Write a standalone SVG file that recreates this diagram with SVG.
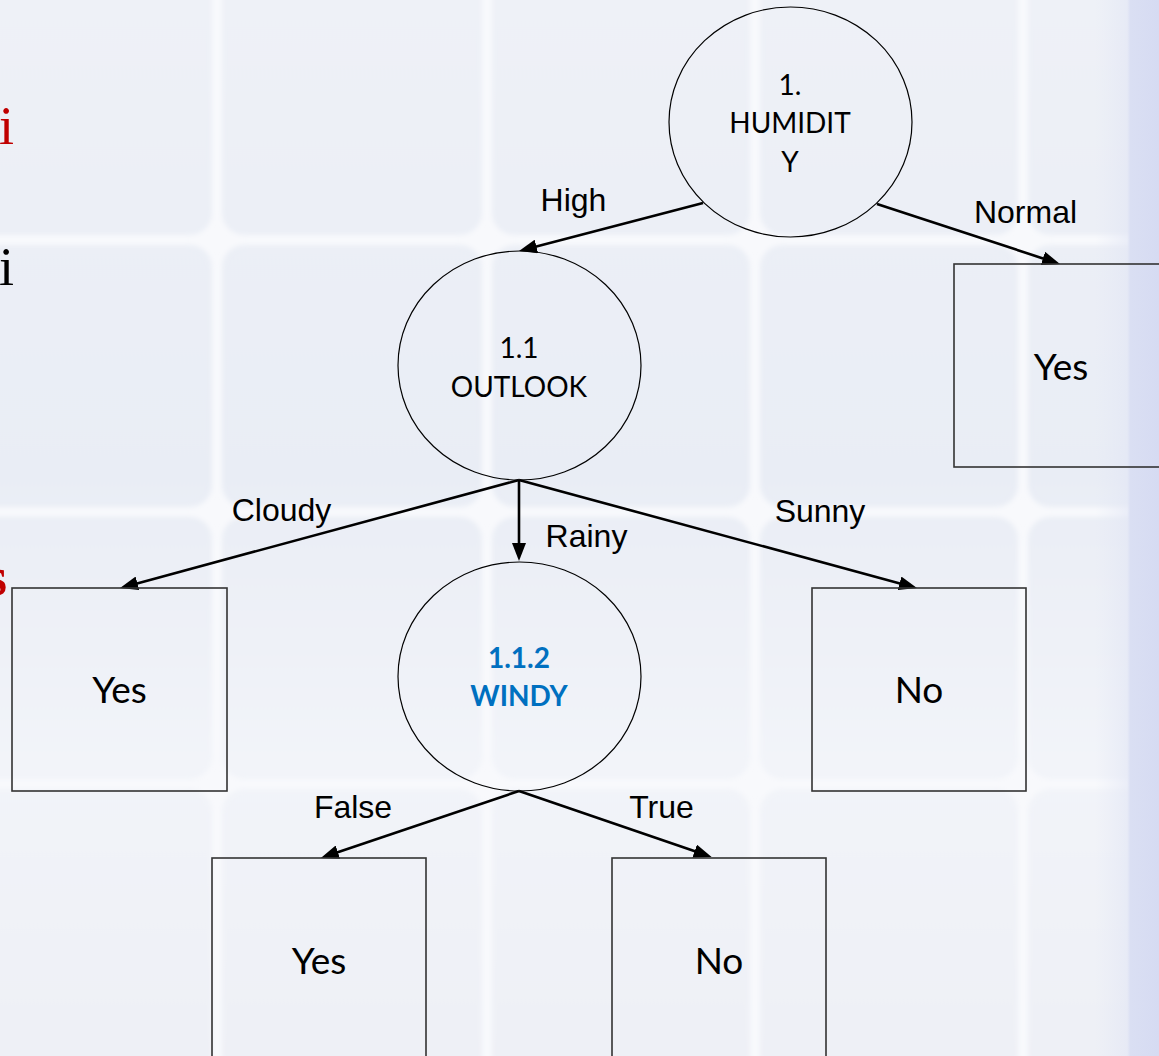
<svg xmlns="http://www.w3.org/2000/svg" width="1159" height="1056" viewBox="0 0 1159 1056">
  <defs>
    <linearGradient id="tileGrad" x1="0" y1="0" x2="0" y2="1056" gradientUnits="userSpaceOnUse">
      <stop offset="0" stop-color="#eef1f7"/>
      <stop offset="0.45" stop-color="#e9edf5"/>
      <stop offset="0.72" stop-color="#f2f4f9"/>
      <stop offset="1" stop-color="#eef0f6"/>
    </linearGradient>
    <linearGradient id="bandGrad" x1="1095" y1="0" x2="1159" y2="0" gradientUnits="userSpaceOnUse">
      <stop offset="0" stop-color="#e4e8f5" stop-opacity="0"/>
      <stop offset="0.5" stop-color="#e2e6f5" stop-opacity="0.6"/>
      <stop offset="0.55" stop-color="#dadff3"/>
      <stop offset="1" stop-color="#d6dbf2"/>
    </linearGradient>
    <filter id="soft" x="-5%" y="-5%" width="110%" height="110%">
      <feGaussianBlur stdDeviation="2.5"/>
    </filter>
    <marker id="arrow" markerUnits="userSpaceOnUse" viewBox="0 0 18 14" markerWidth="18" markerHeight="14" refX="8" refY="7" orient="auto">
      <path d="M0,0 L18,7 L0,14 z" fill="#000"/>
    </marker>
  </defs>
  <style>
    .tile { fill: url(#tileGrad); }
    .node { fill: none; stroke: #000; stroke-width: 1.2; }
    .leaf { fill: none; stroke: #333; stroke-width: 1.6; }
    .edge { fill: none; stroke: #000; stroke-width: 2.6; marker-end: url(#arrow); }
    .elabel { font-family: "Liberation Sans", Arial, sans-serif; font-size: 32px; fill: #000; text-anchor: middle; }
    .ntext { font-family: Lato, "Open Sans", sans-serif; font-size: 28px; fill: #000; text-anchor: middle; }
    .wtext { font-family: Lato, "Open Sans", sans-serif; font-size: 28px; font-weight: bold; fill: #0070c0; text-anchor: middle; }
    .ltext { font-family: Lato, "Open Sans", sans-serif; font-size: 37px; fill: #000; text-anchor: middle; }
    .side { font-family: "Liberation Serif", "Times New Roman", serif; font-size: 54px; }
  </style>

  <!-- background -->
  <g id="background">
    <rect x="0" y="0" width="1159" height="1056" fill="#f8f9fc"/>
    <g filter="url(#soft)">
      <rect class="tile" x="-48" y="-28" width="260" height="263" rx="22"/>
      <rect class="tile" x="222" y="-28" width="260" height="263" rx="22"/>
      <rect class="tile" x="492" y="-28" width="258" height="263" rx="22"/>
      <rect class="tile" x="760" y="-28" width="258" height="263" rx="22"/>
      <rect class="tile" x="1028" y="-28" width="260" height="263" rx="22"/>
      <rect class="tile" x="-48" y="245" width="260" height="262" rx="22"/>
      <rect class="tile" x="222" y="245" width="260" height="262" rx="22"/>
      <rect class="tile" x="492" y="245" width="258" height="262" rx="22"/>
      <rect class="tile" x="760" y="245" width="258" height="262" rx="22"/>
      <rect class="tile" x="1028" y="245" width="260" height="262" rx="22"/>
      <rect class="tile" x="-48" y="517" width="260" height="262" rx="22"/>
      <rect class="tile" x="222" y="517" width="260" height="262" rx="22"/>
      <rect class="tile" x="492" y="517" width="258" height="262" rx="22"/>
      <rect class="tile" x="760" y="517" width="258" height="262" rx="22"/>
      <rect class="tile" x="1028" y="517" width="260" height="262" rx="22"/>
      <rect class="tile" x="-48" y="789" width="260" height="290" rx="22"/>
      <rect class="tile" x="222" y="789" width="260" height="290" rx="22"/>
      <rect class="tile" x="492" y="789" width="258" height="290" rx="22"/>
      <rect class="tile" x="760" y="789" width="258" height="290" rx="22"/>
      <rect class="tile" x="1028" y="789" width="260" height="290" rx="22"/>
    </g>
    <rect x="1095" y="0" width="64" height="1056" fill="url(#bandGrad)"/>
  </g>

  <!-- cut-off slide text at the left edge -->
  <g id="side-text">
    <text class="side" x="-1" y="144" fill="#c00000">i</text>
    <text class="side" x="-1" y="285" fill="#000">i</text>
    <text class="side" x="-14" y="595" fill="#c00000" font-weight="bold">s</text>
  </g>

  <!-- connectors -->
  <g id="connectors">
    <line class="edge" x1="703" y1="203" x2="528.7" y2="248.5" stroke-width="3.6"/>
    <line class="edge" x1="877" y1="204" x2="1050.5" y2="260.9"/>
    <line class="edge" x1="519" y1="480" x2="129.7" y2="585.4"/>
    <line class="edge" x1="519" y1="480" x2="519" y2="551" stroke-width="2.2"/>
    <line class="edge" x1="519" y1="480" x2="907.3" y2="585.4"/>
    <line class="edge" x1="519" y1="791" x2="330.3" y2="854.7"/>
    <line class="edge" x1="519" y1="791" x2="702.2" y2="853.8"/>
    <text class="elabel" x="573.5" y="211">High</text>
    <text class="elabel" x="1025.5" y="223">Normal</text>
    <text class="elabel" x="281.5" y="521">Cloudy</text>
    <text class="elabel" x="586.5" y="547">Rainy</text>
    <text class="elabel" x="820" y="522">Sunny</text>
    <text class="elabel" x="353" y="818">False</text>
    <text class="elabel" x="661.5" y="818">True</text>
  </g>

  <g id="node-humidity">
    <ellipse class="node" cx="790.5" cy="122" rx="121.5" ry="115"/>
    <text class="ntext" x="790" y="95">1.</text>
    <text class="ntext" x="790" y="133">HUMIDIT</text>
    <text class="ntext" x="790" y="172">Y</text>
  </g>

  <g id="node-outlook">
    <ellipse class="node" cx="519.5" cy="365.5" rx="121.5" ry="114.5"/>
    <text class="ntext" x="519" y="358">1.1</text>
    <text class="ntext" x="519" y="397">OUTLOOK</text>
  </g>

  <g id="node-windy">
    <ellipse class="node" cx="519.5" cy="676.5" rx="121.5" ry="114.5"/>
    <text class="wtext" x="519" y="668">1.1.2</text>
    <text class="wtext" x="519" y="706">WINDY</text>
  </g>

  <g id="leaf-normal-yes">
    <rect class="leaf" x="954" y="264" width="214" height="203"/>
    <text class="ltext" x="1061" y="380">Yes</text>
  </g>

  <g id="leaf-cloudy-yes">
    <rect class="leaf" x="12" y="588" width="215" height="203"/>
    <text class="ltext" x="119.5" y="703">Yes</text>
  </g>

  <g id="leaf-sunny-no">
    <rect class="leaf" x="812" y="588" width="214" height="203"/>
    <text class="ltext" x="919" y="703">No</text>
  </g>

  <g id="leaf-false-yes">
    <rect class="leaf" x="212" y="858" width="214" height="220"/>
    <text class="ltext" x="319" y="974">Yes</text>
  </g>

  <g id="leaf-true-no">
    <rect class="leaf" x="612" y="858" width="214" height="220"/>
    <text class="ltext" x="719" y="974">No</text>
  </g>
</svg>
